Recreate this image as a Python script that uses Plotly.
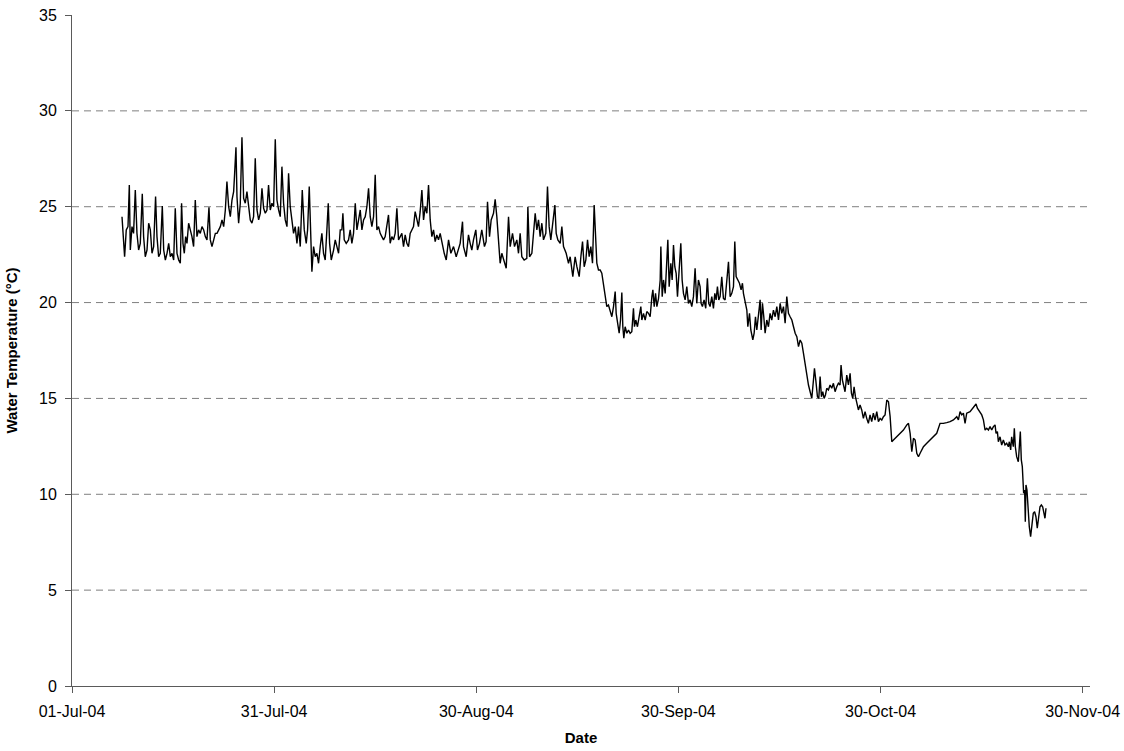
import pandas as pd
import plotly.graph_objects as go

START = pd.Timestamp("2004-07-01")

# Logger record: elapsed days since 01-Jul-2004 and water temperature (°C)
day_offset = [
    7.52, 7.76, 7.91, 8.16, 8.42, 8.62, 8.77, 9.02, 9.26, 9.52, 9.77, 10.02, 10.27, 10.57,
    10.77, 11.02, 11.28, 11.53, 11.78, 12.03, 12.28, 12.57, 12.78, 13.03, 13.28, 13.58,
    13.79, 14.04, 14.29, 14.54, 14.79, 15.04, 15.29, 15.53, 15.79, 16.04, 16.29, 16.48,
    16.69, 16.89, 17.09, 17.29, 17.54, 17.79, 18.04, 18.29, 18.54, 18.79, 19.04, 19.29,
    19.55, 19.80, 20.05, 20.30, 20.60, 20.80, 21.05, 21.31, 21.56, 21.81, 22.06, 22.31,
    22.56, 22.81, 23.06, 23.30, 23.56, 23.81, 24.06, 24.31, 24.46, 24.66, 24.81, 25.06,
    25.31, 25.56, 25.81, 26.06, 26.31, 26.56, 26.81, 27.06, 27.31, 27.56, 27.82, 28.07,
    28.32, 28.57, 28.82, 29.07, 29.32, 29.56, 29.82, 30.07, 30.32, 30.57, 30.82, 31.07,
    31.32, 31.57, 31.82, 32.07, 32.33, 32.57, 32.82, 33.07, 33.32, 33.57, 33.83,
    34.07, 34.33, 34.63, 34.93, 35.23, 35.43, 35.68, 35.88, 36.08, 36.33, 36.58, 36.83,
    37.08, 37.33, 37.58, 37.83, 38.08, 38.33, 38.54, 38.74, 38.99, 39.34, 39.59, 39.84,
    40.09, 40.34, 40.59, 40.74, 40.94, 41.24, 41.59, 41.84, 42.09, 42.34, 42.60, 42.85,
    43.10, 43.35, 43.60, 43.85, 44.10, 44.35, 44.60, 44.85, 45.10, 45.35, 45.60, 45.85,
    46.10, 46.35, 46.60, 46.85, 47.10, 47.35, 47.60, 47.85, 48.10, 48.35, 48.60, 48.86,
    49.11, 49.36, 49.61, 49.86, 50.11, 50.36, 50.61, 50.86, 51.11, 51.36, 51.61, 51.86,
    52.11, 52.36, 52.62, 52.87, 53.12, 53.37, 53.62, 53.87,
    54.12, 54.37, 54.62, 54.87, 55.12, 55.37, 55.62, 55.98, 56.28, 56.63, 56.98, 57.38,
    57.78, 58.13, 58.38, 58.73, 58.88, 59.28, 59.63, 59.88, 60.13, 60.38, 60.73, 60.98,
    61.28, 61.63, 61.88, 62.03, 62.28, 62.49, 62.79, 63.04, 63.39, 63.64, 63.89, 64.14,
    64.39, 64.64, 64.99, 65.30, 65.65, 65.90, 66.25, 66.55, 66.90, 67.15, 67.40, 67.65,
    68.00, 68.40, 68.56, 68.81, 69.16, 69.41, 69.66, 69.91, 70.16, 70.41, 70.66, 70.91,
    71.26, 71.51, 71.76, 72.01, 72.31, 72.62, 72.82, 73.07, 73.42, 73.67, 73.92, 74.32,
    74.67, 74.92, 75.32, 75.67, 75.93, 76.28, 76.53, 76.78, 77.03, 77.28, 77.53, 77.78,
    78.03, 78.28, 78.53,
    78.78, 78.93, 79.18, 79.43, 79.68, 79.93, 80.18, 80.43, 80.68, 80.93, 81.19, 81.44,
    81.69, 81.84, 82.04, 82.29, 82.49, 82.69, 82.84, 82.99, 83.19, 83.44, 83.69, 83.94,
    84.19, 84.44, 84.59, 84.79, 85.04, 85.29, 85.55, 85.70, 85.95, 86.20, 86.45, 86.70,
    86.95, 87.21, 87.36, 87.56, 87.76, 87.96, 88.21, 88.46, 88.56, 88.76, 88.96, 89.21,
    89.41, 89.61, 89.81, 90.06, 90.26, 90.46, 90.66, 90.86, 91.06, 91.31, 91.56, 91.76,
    91.96, 92.21, 92.46, 92.71, 92.96, 93.21, 93.46, 93.71, 93.96, 94.21, 94.46, 94.61,
    94.81, 95.06, 95.31, 95.56, 95.76, 95.96, 96.22, 96.47, 96.67, 96.87, 97.07, 97.27,
    97.47, 97.72, 97.97, 98.22, 98.47, 98.73, 98.98, 99.23, 99.48, 99.68, 99.88, 100.13,
    100.38, 100.63, 100.83, 100.98, 101.23, 101.49, 101.64, 101.89, 102.09, 102.39, 102.59,
    102.79, 102.99, 103.24, 103.49, 103.64, 103.84, 104.04, 104.24, 104.49, 104.74, 104.99,
    105.24, 105.49, 105.75, 106.00, 106.25, 106.50, 106.75, 107.00, 107.25, 107.50, 107.75,
    108.00, 108.26, 108.51, 108.76, 109.01, 109.26, 109.51, 109.76, 110.01, 110.26, 110.51,
    110.76, 111.01, 111.26, 111.51, 111.66, 111.86, 112.11,
    112.31, 112.51, 112.71, 112.91, 113.11, 113.31, 113.51, 113.76, 114.01, 114.26, 114.51,
    114.76, 115.01, 115.26, 115.51, 115.66, 115.86, 116.11, 116.26, 116.52, 116.77, 117.02,
    117.22, 117.42, 117.62, 117.82, 118.02, 118.27, 118.52, 118.77, 119.02, 119.27, 119.52,
    119.77, 120.02, 120.27, 120.52, 120.77, 121.03, 121.28, 121.53, 121.78, 122.03, 122.28,
    122.54, 122.79, 123.04,
    123.29, 123.54, 124.04, 124.54, 125.04, 125.55, 125.80, 126.05, 126.30, 126.55, 126.80,
    127.05, 127.30, 127.55, 128.05, 128.55, 129.05, 129.55, 130.05, 130.55, 131.05, 131.55,
    132.06, 132.56, 133.06, 133.31, 133.56, 133.81, 134.06, 134.31, 134.56, 135.06, 135.56,
    135.96, 136.16, 136.46, 136.82, 137.07, 137.32, 137.57, 137.82, 138.07, 138.32, 138.57,
    138.82, 138.97, 139.17, 139.32, 139.57, 139.82, 140.07, 140.32, 140.57, 140.82, 140.97,
    141.17, 141.32, 141.57, 141.72, 141.87, 142.07, 142.32, 142.47, 142.62, 142.77, 142.92,
    143.12, 143.27, 143.37, 143.47, 143.62, 143.82, 143.97, 144.17, 144.37, 144.57, 144.77,
    144.97, 145.17, 145.38, 145.58, 145.78, 145.98, 146.18, 146.33, 146.48,
]

water_temp = [
    24.48, 22.92, 22.39, 23.79, 23.96, 26.13, 22.74, 23.96, 23.61, 25.87, 23.61, 22.74, 23.09, 25.67,
    23.44, 22.39, 22.74, 24.14, 23.79, 22.57, 22.92, 25.53, 23.44, 22.39, 22.57, 25.04,
    22.74, 22.22, 22.57, 23.09, 22.39, 22.57, 22.22, 24.92, 22.57, 22.22, 22.05, 25.18,
    23.09, 22.57, 23.44, 23.09, 24.14, 23.79, 23.44, 22.92, 25.35, 23.44, 23.79, 23.61,
    23.96, 23.79, 23.44, 23.27, 24.97, 23.27, 22.92, 23.27, 23.61, 23.61, 23.79, 23.96,
    24.31, 23.96, 24.83, 26.31, 25.00, 24.48, 25.35, 25.79, 26.74, 28.10, 25.53, 24.14,
    25.18, 28.62, 25.44, 25.18, 25.79, 25.00, 24.31, 24.14, 24.48, 27.53, 24.83, 24.31,
    24.66, 25.96, 24.92, 24.66, 24.83, 26.13, 24.83, 25.18, 25.00, 28.52, 25.35, 24.83,
    24.48, 27.09, 25.18, 24.31, 23.96, 26.74, 25.00, 24.31, 23.61, 23.96, 23.09,
    23.96, 22.92, 25.87, 23.79, 23.09, 23.79, 26.05, 23.61, 21.61, 22.92, 22.39, 22.57,
    22.05, 22.92, 23.61, 22.57, 22.22, 23.79, 25.18, 23.09, 22.22, 22.74, 23.27, 22.92,
    22.57, 23.79, 23.79, 24.66, 23.27, 23.09, 23.27, 23.79, 23.09, 23.61, 25.18, 23.79,
    24.31, 24.83, 23.79, 24.31, 24.48, 25.00, 25.96, 24.48, 23.96, 24.48, 26.66, 23.79,
    23.96, 23.61, 23.44, 23.27, 23.44, 23.96, 24.57, 23.09, 23.44, 23.27, 23.61, 24.92,
    23.27, 23.44, 23.61, 22.92, 23.53, 23.09, 22.92, 23.61, 23.79, 23.96, 24.74, 24.31,
    23.96, 24.74, 25.87, 24.31, 25.00, 24.66, 26.13, 24.31,
    23.44, 23.79, 23.18, 23.53, 23.27, 23.61, 23.09, 22.57, 22.22, 23.27, 22.57, 22.92,
    22.39, 22.74, 23.09, 24.22, 22.92, 22.39, 23.53, 23.09, 22.74, 23.27, 23.79, 22.74,
    23.09, 23.79, 23.27, 22.92, 23.18, 25.26, 23.44, 24.31, 24.66, 25.39, 24.48, 22.92,
    22.05, 22.57, 22.22, 21.79, 24.48, 22.92, 23.61, 22.92, 23.27, 22.57, 23.61, 22.39,
    22.22, 22.31, 25.00, 22.39, 22.57, 23.44, 24.66, 23.79, 24.31, 23.44, 24.14, 23.27,
    23.61, 26.05, 23.96, 23.27, 24.14, 25.09, 23.61, 23.27, 23.09, 23.96, 22.92, 22.57,
    22.05, 22.39, 21.35, 22.39, 21.87, 21.35, 22.39, 23.18, 21.87, 22.22, 23.27, 22.39,
    22.92, 22.05, 25.09,
    23.27, 22.05, 21.70, 21.70, 21.53, 21.01, 20.48, 19.79, 19.87, 19.61, 19.26, 19.79,
    20.57, 19.44, 18.92, 18.40, 19.09, 20.52, 18.74, 18.14, 18.74, 18.40, 18.57, 18.40,
    18.48, 19.70, 18.74, 19.09, 18.74, 19.26, 19.79, 19.09, 19.44, 19.09, 19.53, 19.44,
    19.26, 20.31, 20.66, 19.79, 20.48, 19.79, 20.22, 21.18, 22.92, 20.31, 21.18, 20.48,
    21.87, 23.27, 20.83, 22.05, 21.18, 23.00, 21.87, 21.53, 20.31, 22.05, 23.09, 21.18,
    20.48, 20.14, 20.83, 19.96, 20.14, 19.79, 20.31, 21.79, 19.96, 21.18, 20.83, 19.96,
    19.79, 20.14, 19.70, 21.27, 19.96, 19.79, 20.31, 19.70, 20.48, 20.14, 20.83, 20.14,
    20.31, 21.35, 20.22, 20.14, 21.18, 22.13, 20.31, 20.48, 20.83, 23.18, 21.35, 21.18,
    21.01, 20.66, 21.01, 20.48, 19.96, 19.61, 18.74, 19.44, 18.57, 18.05, 18.40,
    19.26, 18.57, 19.44, 20.14, 18.57, 19.96, 19.26, 18.40, 19.09, 18.74, 19.44,
    19.09, 19.61, 19.26, 19.79, 19.09, 19.96, 19.44, 19.79, 18.92, 20.31, 19.44,
    19.26, 19.09, 18.74, 18.40, 18.22, 17.70, 18.05, 17.88, 17.35, 16.83, 16.14,
    15.70, 15.35, 15.00, 15.96, 16.57, 15.96, 15.09,
    15.00, 16.14, 15.09, 15.35, 15.00, 15.18, 15.53, 15.44, 15.70, 15.53, 15.79,
    15.35, 15.61, 15.79, 15.70, 16.74, 15.96, 15.61, 15.35, 16.22, 15.70, 16.31,
    15.27, 15.00, 15.61, 15.09, 14.83, 14.40, 14.66, 14.40, 13.96, 14.31, 13.96,
    13.70, 14.14, 13.79, 14.23, 13.87, 14.31, 13.79, 13.96, 13.87, 14.05, 14.14,
    14.92, 14.83, 14.05,
    12.74, 12.83, 13.00, 13.18, 13.35, 13.62, 13.70, 13.18, 12.22, 12.92, 12.83,
    12.14, 11.96, 12.14, 12.48, 12.66, 12.83, 13.00, 13.18, 13.70, 13.70, 13.74,
    13.79, 13.88, 14.05, 13.88, 14.31, 14.14, 14.23, 13.70, 14.23, 14.31, 14.57,
    14.71, 14.49, 14.31, 14.14, 13.88, 13.35, 13.44, 13.35, 13.53, 13.35, 13.53,
    13.62, 13.18, 13.27, 12.74, 13.00, 12.57, 12.83, 12.57, 12.66, 12.48, 12.74,
    12.31, 13.00, 12.48, 13.44, 12.48, 11.96, 11.70, 12.31, 13.27, 11.79, 11.44,
    10.05, 10.22, 8.57, 10.49, 10.22, 9.01, 8.31, 7.79, 8.49, 9.01, 9.09,
    8.83, 8.23, 9.01, 9.35, 9.44, 9.35, 9.01, 8.75, 9.27,
]

# Date axis: six labelled marks spaced 30.4 days apart, axis ends just past 30-Nov
TICK_STEP_DAYS = 30.4
x_tick_labels = ["01-Jul-04", "31-Jul-04", "30-Aug-04", "30-Sep-04", "30-Oct-04", "30-Nov-04"]
AXIS_END_DAYS = 153.1
y_tick_values = [0, 5, 10, 15, 20, 25, 30, 35]
grid_levels = [5, 10, 15, 20, 25, 30]

timestamps = START + pd.to_timedelta(day_offset, unit="D")
x_tick_values = [START + pd.to_timedelta(k * TICK_STEP_DAYS, unit="D") for k in range(len(x_tick_labels))]

FONT = "Liberation Sans, Arial, Helvetica, sans-serif"
AXIS_GREY = "#5a5a5a"

fig = go.Figure()
fig.add_trace(go.Scatter(
    x=timestamps,
    y=water_temp,
    mode="lines",
    line=dict(color="black", width=1.4),
    showlegend=False,
))

# Dashed horizontal reference lines
for level in grid_levels:
    fig.add_shape(
        type="line", xref="paper", x0=0, x1=1, yref="y", y0=level, y1=level,
        line=dict(color="#7f7f7f", width=1, dash="7px,5px"), layer="below",
    )

fig.update_layout(
    width=1124,
    height=751,
    margin=dict(l=72, r=34, t=15, b=65),
    paper_bgcolor="white",
    plot_bgcolor="white",
    font=dict(family=FONT, size=16, color="black"),
    xaxis=dict(
        type="date",
        automargin=False,
        range=[START, START + pd.to_timedelta(AXIS_END_DAYS, unit="D")],
        tickmode="array",
        tickvals=x_tick_values,
        ticktext=x_tick_labels,
        ticks="outside",
        ticklen=6,
        tickcolor=AXIS_GREY,
        ticklabelstandoff=5,
        showline=True,
        linecolor=AXIS_GREY,
        linewidth=1,
        showgrid=False,
        zeroline=False,
        tickfont=dict(size=16),
        title=dict(text="<b>Date</b>", font=dict(size=15), standoff=13),
    ),
    yaxis=dict(
        automargin=False,
        range=[0, 35],
        tickmode="array",
        tickvals=y_tick_values,
        ticks="outside",
        ticklen=6,
        tickcolor=AXIS_GREY,
        ticklabelstandoff=5,
        showline=True,
        linecolor=AXIS_GREY,
        linewidth=1,
        showgrid=False,
        zeroline=False,
        tickfont=dict(size=16),
        title=dict(text="<b>Water Temperature (°C)</b>", font=dict(size=15), standoff=17),
    ),
)

fig.write_html("out.html")
